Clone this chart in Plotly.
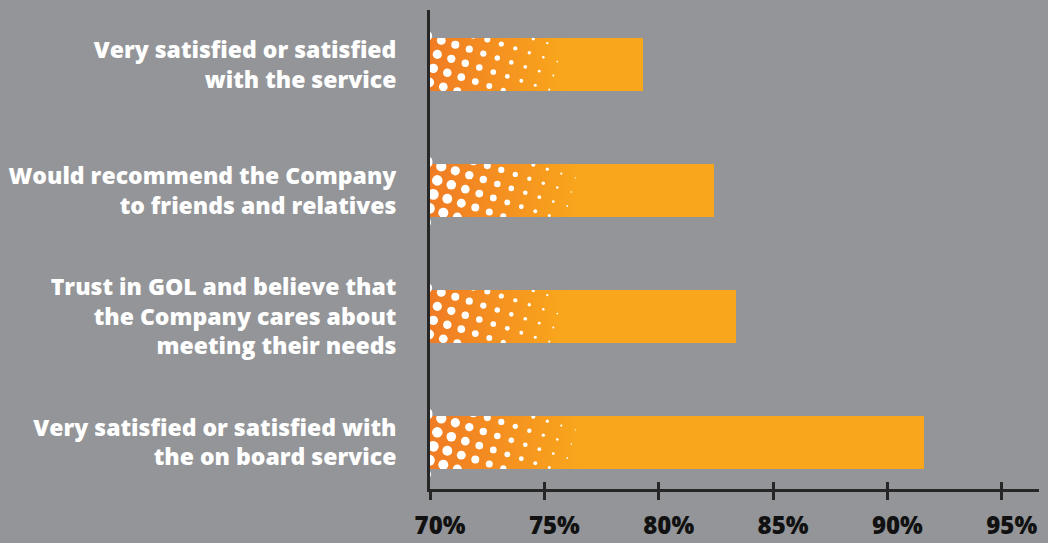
import numpy as np
import plotly.graph_objects as go

# Survey results (share of passengers), listed bottom-to-top on the chart
categories = [
    "Very satisfied or satisfied with<br>the on board service",
    "Trust in GOL and believe that<br>the Company cares about<br>meeting their needs",
    "Would recommend the Company<br>to friends and relatives",
    "Very satisfied or satisfied<br>with the service",
]
values = [91.6, 83.4, 82.4, 79.3]

tick_vals = [70, 75, 80, 85, 90, 95]
tick_text = ["70%", "75%", "80%", "85%", "90%", "95%"]

# ---- styling -------------------------------------------------------------
BG = "#939598"
ORANGE = "#F9A61C"
ORANGE_DARK = "#F07C24"
AXIS = "#262626"

W, H = 1048, 543
M_L, M_R, M_T, M_B = 430, 9, 10, 54
X_MIN, X_MAX = 70, 96.63
Y_MIN, Y_MAX = -0.369, 3.433
BAR_W = 0.42

plot_w = W - M_L - M_R
plot_h = H - M_T - M_B
px_per_x = plot_w / (X_MAX - X_MIN)
px_per_y = plot_h / (Y_MAX - Y_MIN)

# halftone strip per bar: dot diameter at the bar start (px), shrink rate and cut-off (px)
dot_d0 = [11.0, 9.6, 11.0, 9.6]
dot_slope = [0.067, 0.062, 0.067, 0.062]
dot_stop = [150, 128, 150, 128]
grad_len_px = [150, 132, 150, 132]

positions = list(range(len(categories)))

fig = go.Figure()

fig.add_trace(go.Bar(
    y=positions, x=values, orientation="h", width=BAR_W,
    marker=dict(color=ORANGE, line=dict(width=0)),
    hoverinfo="skip", showlegend=False,
))

dot_x, dot_y, dot_s = [], [], []
bar_h_px = BAR_W * px_per_y
for k in positions:
    top = k + BAR_W / 2
    bot = k - BAR_W / 2
    x_end = X_MIN + grad_len_px[k] / px_per_x
    # colour ramp at the start of each bar
    fig.add_trace(go.Scatter(
        x=[X_MIN, x_end, x_end, X_MIN, X_MIN],
        y=[bot, bot, top, top, bot],
        mode="lines", line=dict(width=0), fill="toself",
        fillgradient=dict(type="horizontal", start=X_MIN, stop=x_end,
                          colorscale=[[0, ORANGE_DARK], [1, ORANGE]]),
        hoverinfo="skip", showlegend=False,
    ))
    # rotated square dot grid, dots shrinking to the right
    ox, oy = 11.3, 2.3
    for i in range(-6, 16):
        for j in range(-6, 8):
            px = ox + i * 14.0 - j * 4.0
            py = oy + i * 4.4 + j * 14.0
            if px < -6 or px > dot_stop[k]:
                continue
            d = dot_d0[k] - dot_slope[k] * px
            if d < 1.0:
                continue
            if py < -d / 2 or py > bar_h_px + d / 2:
                continue
            dot_x.append(X_MIN + px / px_per_x)
            dot_y.append(top - py / px_per_y)
            dot_s.append(d)

fig.add_trace(go.Scatter(
    x=dot_x, y=dot_y, mode="markers",
    marker=dict(color="white", size=dot_s, opacity=1, line=dict(width=0)),
    hoverinfo="skip", showlegend=False,
))

# background strips trimming dots that spill over the bar edges
shapes = []
x0 = X_MIN + 2.5 / px_per_x
x1 = X_MIN + 170 / px_per_x
pad = 12 / px_per_y
for k in positions:
    top = k + BAR_W / 2
    bot = k - BAR_W / 2
    for ya, yb in ((top, top + pad), (bot - pad, bot)):
        shapes.append(dict(type="rect", xref="x", yref="y", x0=x0, x1=x1,
                           y0=ya, y1=yb, fillcolor=BG, line=dict(width=0),
                           layer="above"))

# empty trace so the overlaid tick axis is drawn
fig.add_trace(go.Scatter(x=[None], y=[None], xaxis="x2", yaxis="y",
                         showlegend=False, hoverinfo="skip"))

fig.update_layout(
    width=W, height=H,
    margin=dict(l=M_L, r=M_R, t=M_T, b=M_B, pad=0, autoexpand=False),
    paper_bgcolor=BG, plot_bgcolor=BG,
    showlegend=False, bargap=0,
    shapes=shapes,
    xaxis=dict(
        range=[X_MIN, X_MAX], tickvals=tick_vals, ticktext=tick_text,
        showgrid=False, zeroline=False, automargin=False,
        showline=True, linecolor=AXIS, linewidth=3,
        ticks="outside", ticklen=8, tickwidth=3, tickcolor=AXIS,
        tickfont=dict(family="Open Sans", size=24, color="#111111", weight=800),
        ticklabelshift=10, ticklabelstandoff=5,
        fixedrange=True,
    ),
    xaxis2=dict(
        range=[X_MIN, X_MAX], overlaying="x", anchor="y", side="bottom",
        tickvals=tick_vals, showticklabels=False, automargin=False,
        showgrid=False, zeroline=False, showline=False,
        ticks="inside", ticklen=7, tickwidth=3, tickcolor=AXIS,
        fixedrange=True,
    ),
    yaxis=dict(
        range=[Y_MIN, Y_MAX], tickvals=positions, ticktext=categories,
        showgrid=False, zeroline=False, automargin=False,
        showline=True, linecolor=AXIS, linewidth=3,
        ticks="", ticklabelstandoff=26,
        tickfont=dict(family="Open Sans", size=23, color="white", weight=800),
        fixedrange=True,
    ),
)

fig.write_html("out.html")
